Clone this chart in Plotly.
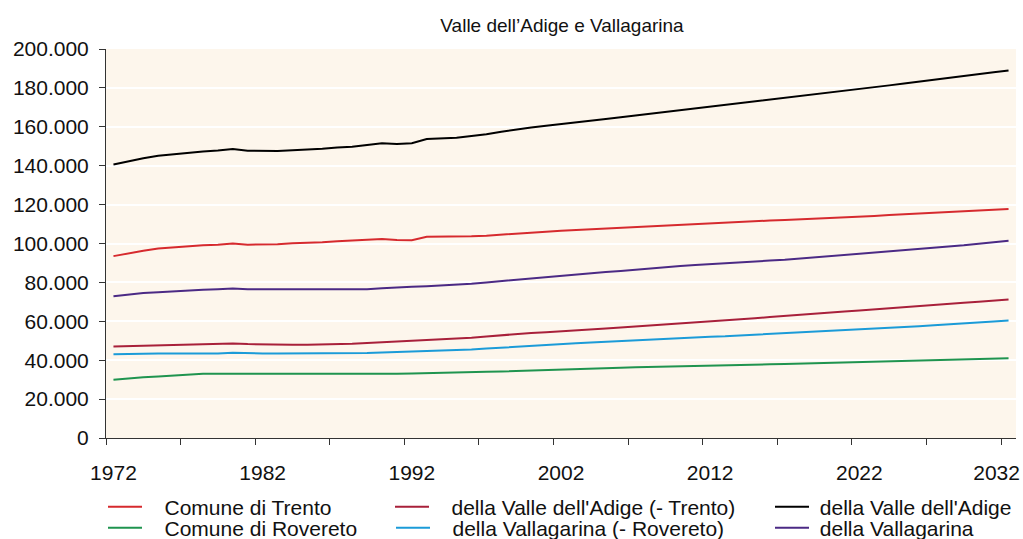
import plotly.graph_objects as go

years = list(range(1972, 2033))

# Popolazione residente (migliaia di abitanti), dati storici e proiezione
comune_trento = [
    93.5, 95.0, 96.3, 97.4, 98.0, 98.6, 99.1, 99.4, 100.0, 99.4,
    99.5, 99.6, 100.1, 100.2, 100.6, 101.1, 101.4, 101.8, 102.3, 101.8,
    101.7, 103.5, 103.5, 103.4, 103.7, 104.0, 104.6, 105.2, 105.6, 106.1,
    106.5, 106.9, 107.3, 107.7, 108.1, 108.5, 108.9, 109.3, 109.7, 110.1,
    110.5, 110.9, 111.2, 111.5, 111.8, 112.1, 112.4, 112.7, 113.0, 113.4,
    113.8, 114.2, 114.6, 115.0, 115.4, 115.8, 116.2, 116.6, 117.0, 117.4,
    117.8,
]
valle_adige_meno_trento = [
    47.1, 47.3, 47.5, 47.7, 47.9, 48.1, 48.2, 48.4, 48.6, 48.3,
    48.1, 48.0, 47.9, 48.0, 48.1, 48.2, 48.4, 48.9, 49.3, 49.4,
    49.8, 50.2, 50.6, 51.0, 51.6, 52.2, 52.9, 53.5, 54.0, 54.4,
    54.8, 55.3, 55.8, 56.3, 56.8, 57.3, 57.8, 58.3, 58.9, 59.4,
    59.9, 60.5, 61.0, 61.6, 62.2, 62.7, 63.3, 63.9, 64.4, 65.0,
    65.6, 66.2, 66.7, 67.3, 67.8, 68.4, 68.9, 69.5, 70.0, 70.6,
    71.2,
]
valle_adige = [
    140.6, 142.3, 143.8, 145.1, 145.9, 146.7, 147.3, 147.8, 148.6, 147.7,
    147.6, 147.6, 148.0, 148.2, 148.7, 149.3, 149.8, 150.7, 151.6, 151.2,
    151.5, 153.7, 154.1, 154.4, 155.3, 156.2, 157.5, 158.7, 159.6, 160.5,
    161.3, 162.2, 163.1, 164.0, 164.9, 165.8, 166.7, 167.6, 168.6, 169.5,
    170.4, 171.4, 172.2, 173.1, 174.0, 174.8, 175.7, 176.6, 177.4, 178.4,
    179.4, 180.4, 181.3, 182.3, 183.2, 184.2, 185.1, 186.1, 187.0, 188.0,
    189.0,
]
comune_rovereto = [
    29.9, 30.6, 31.2, 31.6, 32.1, 32.6, 33.0, 33.0, 33.0, 33.0,
    33.1, 33.1, 33.0, 33.0, 33.0, 32.9, 32.8, 32.8, 33.0, 33.0,
    33.2, 33.3, 33.5, 33.6, 33.8, 34.0, 34.2, 34.4, 34.7, 34.9,
    35.1, 35.4, 35.6, 35.9, 36.1, 36.4, 36.6, 36.8, 37.0, 37.2,
    37.4, 37.5, 37.7, 37.8, 37.9, 38.0, 38.2, 38.4, 38.6, 38.8,
    39.0, 39.1, 39.3, 39.5, 39.6, 39.8, 40.0, 40.2, 40.5, 40.7,
    41.0,
]
vallagarina_meno_rovereto = [
    43.0, 43.2, 43.3, 43.4, 43.4, 43.4, 43.2, 43.5, 43.8, 43.5,
    43.5, 43.5, 43.5, 43.5, 43.5, 43.4, 43.4, 43.7, 44.0, 44.2,
    44.5, 44.7, 44.9, 45.1, 45.5, 46.0, 46.5, 47.0, 47.4, 47.9,
    48.3, 48.7, 49.1, 49.5, 49.8, 50.2, 50.6, 51.0, 51.4, 51.8,
    52.1, 52.3, 52.7, 53.0, 53.3, 53.6, 54.0, 54.4, 54.8, 55.2,
    55.6, 56.1, 56.5, 57.0, 57.5, 58.0, 58.4, 58.9, 59.4, 59.9,
    60.4,
]
vallagarina = [
    72.9, 73.8, 74.5, 75.0, 75.5, 76.0, 76.2, 76.5, 76.8, 76.5,
    76.6, 76.6, 76.5, 76.5, 76.5, 76.3, 76.2, 76.5, 77.0, 77.2,
    77.7, 78.0, 78.4, 78.7, 79.3, 80.0, 80.7, 81.4, 82.1, 82.8,
    83.4, 84.1, 84.7, 85.4, 85.9, 86.6, 87.2, 87.8, 88.4, 89.0,
    89.5, 89.8, 90.4, 90.8, 91.2, 91.6, 92.2, 92.8, 93.4, 94.0,
    94.6, 95.2, 95.8, 96.5, 97.1, 97.8, 98.4, 99.1, 99.9, 100.6,
    101.4,
]

label_text = ["1972", "1982", "1992", "2002", "2012", "2022", "2032"]
# the last label is nudged inward so it stays inside the figure
label_pos = [1972, 1982, 1992, 2002, 2012, 2022, 2031.2]
y_ticks = [0, 20000, 40000, 60000, 80000, 100000, 120000, 140000, 160000, 180000, 200000]

series = [
    ("Comune di Trento", comune_trento, "#d62a2e", "legend"),
    ("della Valle dell'Adige (- Trento)", valle_adige_meno_trento, "#a8203a", "legend2"),
    ("della Valle dell'Adige", valle_adige, "#000000", "legend3"),
    ("Comune di Rovereto", comune_rovereto, "#1f944f", "legend4"),
    ("della Vallagarina (- Rovereto)", vallagarina_meno_rovereto, "#1b9bd8", "legend5"),
    ("della Vallagarina", vallagarina, "#4b2a85", "legend6"),
]

W, H = 1023, 539
FONT = "Liberation Sans, Arial, sans-serif"
NB = "\u00a0"

# one single-entry legend per cell of the 3x2 legend grid:
# (sample start x, row centre y, spaces between sample and text)
cells = {
    "legend":  (103, 507, 3),
    "legend2": (390, 507, 3),
    "legend3": (770, 507, 1),
    "legend4": (103, 528, 3),
    "legend5": (391, 528, 3),
    "legend6": (770, 528, 1),
}

fig = go.Figure()
for name, vals, color, leg in series:
    pad = NB * cells[leg][2]
    fig.add_trace(go.Scatter(
        x=years, y=[v * 1000 for v in vals], name=pad + name, mode="lines",
        line=dict(color=color, width=2), legend=leg,
        hoverinfo="skip",
    ))

leg_layout = {}
for key, (px, py, _) in cells.items():
    leg_layout[key] = dict(
        x=px / W, y=1 - py / H, xref="container", yref="container",
        xanchor="left", yanchor="middle", bgcolor="rgba(0,0,0,0)",
        borderwidth=0, itemwidth=34,
        font=dict(family=FONT, size=21, color="#111111"),
    )

fig.update_layout(
    width=W, height=H,
    margin=dict(l=106, r=7, t=49, b=101, autoexpand=False),
    paper_bgcolor="white",
    plot_bgcolor="#fdf6ec",
    separators=",.",
    showlegend=True,
    title=dict(
        text="Valle dell’Adige e Vallagarina", x=562 / W, xanchor="center",
        y=1 - 25 / H, yanchor="middle",
        font=dict(family=FONT, size=19, color="#111111"),
    ),
    xaxis=dict(
        range=[1971.5, 2032.5], tickvals=label_pos,
        ticktext=label_text, ticks="",
        showgrid=False, zeroline=False,
        showline=True, linecolor="#333333", linewidth=1,
        tickfont=dict(family=FONT, size=21, color="#111111"),
        ticklabelstandoff=16,
        minor=dict(tick0=1971.5, dtick=5, ticks="outside", ticklen=6,
                   tickcolor="#333333", showgrid=False),
    ),
    yaxis=dict(
        range=[0, 200000], tickvals=y_ticks, tickformat=",d",
        ticks="outside", ticklen=6, tickcolor="#333333",
        showgrid=True, gridcolor="white", gridwidth=2,
        zeroline=False, showline=True, linecolor="#333333", linewidth=1,
        tickfont=dict(family=FONT, size=21, color="#111111"),
        ticklabelstandoff=6,
    ),
    **leg_layout,
)

fig.write_html("out.html")
